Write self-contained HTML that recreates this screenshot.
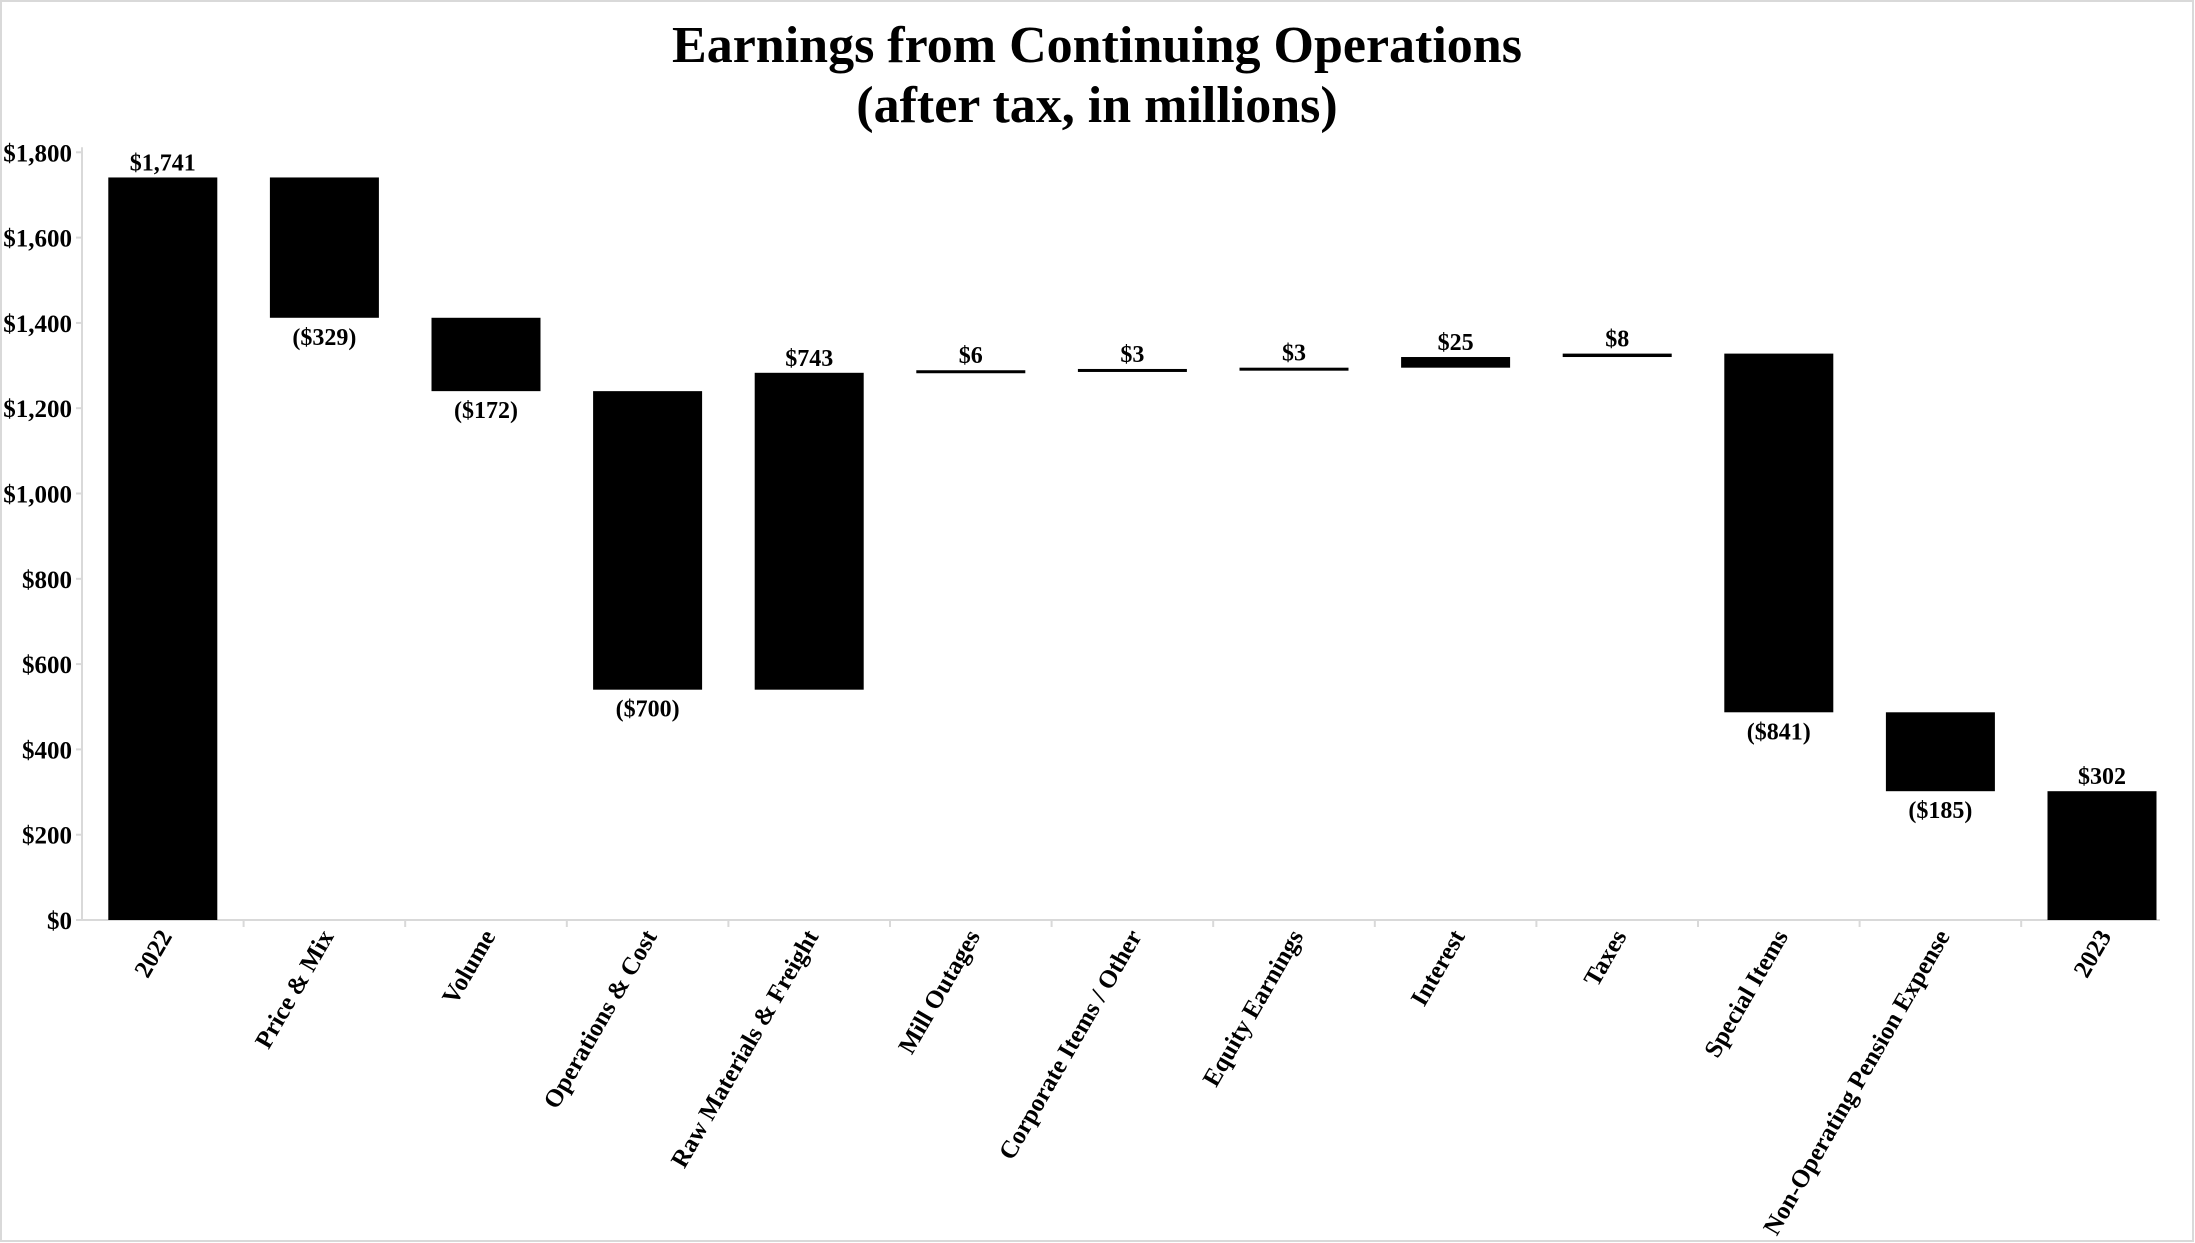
<!DOCTYPE html>
<html><head><meta charset="utf-8"><style>
body{margin:0;background:#fff}
svg{display:block;font-family:"Liberation Serif",serif;font-weight:bold}
</style></head><body>
<svg id="c" width="2195" height="1243">
<rect x="1" y="1" width="2192" height="1240" fill="#fff" stroke="#d9d9d9" stroke-width="2"/>
<text x="1097" y="62" text-anchor="middle" font-size="52">Earnings from Continuing Operations</text>
<text x="1097" y="122" text-anchor="middle" font-size="52">(after tax, in millions)</text>
<g id="g"></g>
</svg>
<script>
const categories=["2022","Price & Mix","Volume","Operations & Cost","Raw Materials & Freight","Mill Outages","Corporate Items / Other","Equity Earnings","Interest","Taxes","Special Items","Non-Operating Pension Expense","2023"];
const deltas=[1741,-329,-172,-700,743,6,3,3,25,8,-841,-185,302];
const isTotal=[true,false,false,false,false,false,false,false,false,false,false,false,true];
const valueLabels=["$1,741","($329)","($172)","($700)","$743","$6","$3","$3","$25","$8","($841)","($185)","$302"];
const yTicks=[0,200,400,600,800,1000,1200,1400,1600,1800];
const yTickLabels=["$0","$200","$400","$600","$800","$1,000","$1,200","$1,400","$1,600","$1,800"];

const NS="http://www.w3.org/2000/svg";
const g=document.getElementById('g');
const x0=82,band=161.6,barW=109,y0=920,k=0.4265;
const y=v=>y0-v*k;
const cx=i=>x0+band*i+band/2;
function mk(t,a){const e=document.createElementNS(NS,t);for(const n in a)e.setAttribute(n,a[n]);g.appendChild(e);return e;}

let ax=mk('line',{x1:x0,y1:y(1800)-5,x2:x0,y2:y0,stroke:'#d9d9d9','stroke-width':2});


let bx=mk('line',{x1:x0,y1:y0,x2:2160,y2:y0,stroke:'#d9d9d9','stroke-width':2});



yTicks.forEach((v,i)=>{
  const t=mk('text',{x:72,y:y(v)+9,'text-anchor':'end','font-size':25});
  t.textContent=yTickLabels[i];
  
  
  const tk=mk('line',{x1:x0-6,y1:y(v),x2:x0,y2:y(v),stroke:'#d9d9d9','stroke-width':2});
  
  
});

let run=0;
categories.forEach((c,i)=>{
  let lo,hi,neg=deltas[i]<0;
  if(isTotal[i]){lo=0;hi=deltas[i];run=deltas[i];}
  else{const s=run,e=run+deltas[i];lo=Math.min(s,e);hi=Math.max(s,e);run=e;}
  const r=mk('rect',{x:cx(i)-barW/2,y:y(hi),width:barW,height:Math.max(y(lo)-y(hi),3),fill:'#000'});
  
  
  const lb=mk('text',{x:cx(i),y:neg?y(lo)+27:y(hi)-7,'text-anchor':'middle','font-size':24});
  lb.textContent=valueLabels[i];
  
  
  if(i<categories.length-1){
  const tk=mk('line',{x1:x0+band*(i+1),y1:y0,x2:x0+band*(i+1),y2:y0+7,stroke:'#d9d9d9','stroke-width':2});
  
  }
  const tx=cx(i)+10,ty=y0+16;
  const ct=mk('text',{x:tx,y:ty,'text-anchor':'end','font-size':25,transform:`rotate(-60 ${tx} ${ty})`});
  ct.textContent=c;
  
  
});
</script>
</body></html>
